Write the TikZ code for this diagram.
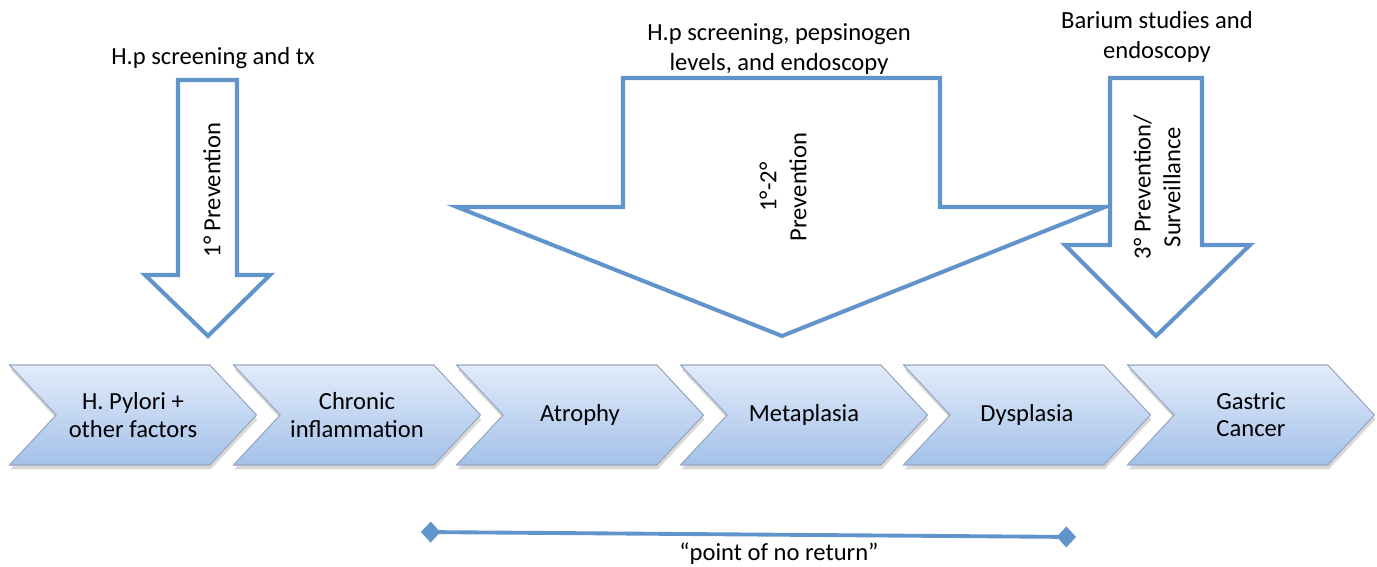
\documentclass[tikz,border=0pt]{standalone}
\usepackage{fontspec}
\setmainfont{Carlito}
\usetikzlibrary{arrows.meta,shapes.symbols,shadows}

\definecolor{arrowblue}{RGB}{98,148,204}
\definecolor{stagetop}{RGB}{226,236,249}
\definecolor{stagebot}{RGB}{164,193,234}
\definecolor{stageedge}{RGB}{150,166,192}
\newcommand{\stagefont}{\fontsize{14}{15.5}\selectfont}
\newcommand{\lblfont}{\fontsize{14}{17}\selectfont}

\begin{document}
\begin{tikzpicture}[x=0.02cm, y=-0.02cm,
    stage/.style={signal, signal to=east, signal from=west, signal pointer angle=94,
      draw=stageedge, line width=0.6pt, top color=stagetop, bottom color=stagebot,
      minimum width=4.94cm, minimum height=2cm, inner sep=0pt, align=center,
      font=\stagefont, drop shadow={opacity=0.3, shadow xshift=0.5pt, shadow yshift=-2.5pt}},
    blockarr/.style={draw=arrowblue, line width=2.3pt, fill=white, line join=miter},
    lbl/.style={font=\lblfont, align=center},
    pnr/.style={{Diamond[length=11pt, width=12pt]}-{Diamond[length=11pt, width=12pt]},
      draw=arrowblue, line width=2.2pt},
  ]
    \useasboundingbox (0,0) rectangle (1377,567);

    % Stages
    \node[stage] (hpyl) at (133,415) {H. Pylori +\\other factors};
    \node[stage] (chron) at (357,415) {Chronic\\inflammation};
    \node[stage] (atro) at (580,415) {Atrophy};
    \node[stage] (meta) at (804,415) {Metaplasia};
    \node[stage] (dysp) at (1027,415) {Dysplasia};
    \node[stage] (canc) at (1251,415) {Gastric\\Cancer};

    % Prevention arrows
    \draw[blockarr] (178,80) -- (237,80) -- (237,275) -- (270,275) -- (208,336)
      -- (145,275) -- (178,275) -- cycle;
    \draw[blockarr] (623,78) -- (940,78) -- (940,207) -- (1105,207) -- (782,336)
      -- (457,207) -- (623,207) -- cycle;
    \draw[blockarr] (1110,78) -- (1202,78) -- (1202,245) -- (1250,245) -- (1156,336)
      -- (1065,245) -- (1110,245) -- cycle;

    \node[lbl, rotate=90] (prim) at (212,190) {1° Prevention};
    \node[lbl, rotate=90] (primsec) at (783,187) {1°-2°\\Prevention};
    \node[lbl, rotate=90] (tert) at (1157,187) {3° Prevention/\\Surveillance};

    % Labels
    \node[lbl] (hptx) at (213,58) {H.p screening and tx};
    \node[lbl] (pepsin) at (779,49) {H.p screening, pepsinogen\\levels, and endoscopy};
    \node[lbl] (barium) at (1157,37) {Barium studies and\\endoscopy};

    % Point of no return
    \coordinate (pnrA) at (421,532);
    \coordinate (pnrB) at (1076,537);
    \draw[pnr] (pnrA) -- (pnrB);
    \node[lbl] (pnrtxt) at (779,554) {“point of no return”};
  \end{tikzpicture}
\end{document}
